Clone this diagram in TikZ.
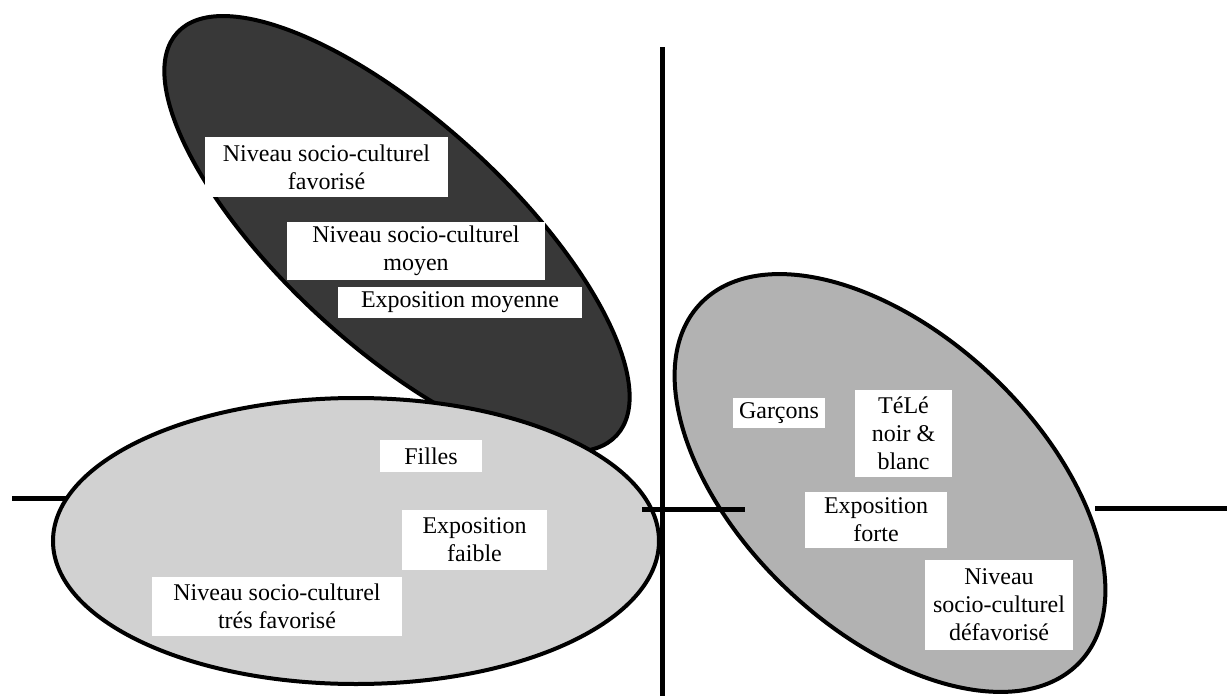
\documentclass[tikz,border=0pt]{standalone}
\usepackage{fontspec}
\setmainfont{Liberation Serif}
\usetikzlibrary{calc}
\definecolor{darkcluster}{gray}{0.22}
\definecolor{midcluster}{gray}{0.70}
\definecolor{lightcluster}{gray}{0.82}
\tikzstyle{axis}=[line width=5pt]
\tikzstyle{cluster}=[draw=black,line width=4pt]
\tikzstyle{labelbox}=[fill=white,inner sep=0pt,align=center,font=\fontsize{24}{28}\selectfont]
\newcommand{\drawcluster}[7]{
% name, centre x, centre y, half axes, tilt, colour
\coordinate (#1) at (#2,#3);
\draw[cluster,fill=#7,rotate around={-#6:(#1)}] (#1) ellipse (#4 and #5);
}
\newcommand{\putlabel}[6]{
\node[labelbox,minimum width=#4pt,minimum height=#5pt] (#1) at (#2,#3) {#6};
}

\begin{document}
\begin{tikzpicture}[x=1pt,y=-1pt]
  \useasboundingbox (0,0) rectangle (1227,696);
  \coordinate (vtop) at (662,47);
  \coordinate (vbot) at (662,696);
  \coordinate (hwest) at (12,498);
  \coordinate (hwestend) at (95,498);
  \coordinate (hmidA) at (642,509);
  \coordinate (hmidB) at (745,509);
  \coordinate (heastA) at (1095,508);
  \coordinate (heastB) at (1227,508);
  \draw[axis] (hwest) -- (hwestend);
  \drawcluster{moyens}{397}{234}{298}{113}{42.5}{darkcluster}
  \drawcluster{filles}{356}{541}{303}{143}{0}{lightcluster}
  \drawcluster{garcons}{890}{483}{261}{148}{43.3}{midcluster}
  \draw[axis] (vtop) -- (vbot);
  \draw[axis] (hmidA) -- (hmidB);
  \draw[axis] (heastA) -- (heastB);
  % dark cluster
  \putlabel{nfav}{326.5}{167}{243}{60}{Niveau socio-culturel\\favorisé}
  \putlabel{nmoy}{416}{251}{258}{58}{Niveau socio-culturel\\moyen}
  \putlabel{emoy}{460}{302.5}{244}{31}{Exposition moyenne}
  % light cluster
  \putlabel{lfilles}{431}{456}{102}{32}{Filles}
  \putlabel{efaible}{474.5}{540}{145}{60}{Exposition\\faible}
  \putlabel{ntfav}{277}{606.5}{250}{59}{Niveau socio-culturel\\trés favorisé}
  % right cluster
  \putlabel{lgarcons}{779}{413}{92}{30}{Garçons}
  \putlabel{tele}{903.5}{433.5}{97}{87}{TéLé\\noir \&\\blanc}
  \putlabel{eforte}{876}{520}{142}{56}{Exposition\\forte}
  \putlabel{ndefav}{999}{605}{148}{90}{Niveau\\socio-culturel\\défavorisé}
\end{tikzpicture}
\end{document}
